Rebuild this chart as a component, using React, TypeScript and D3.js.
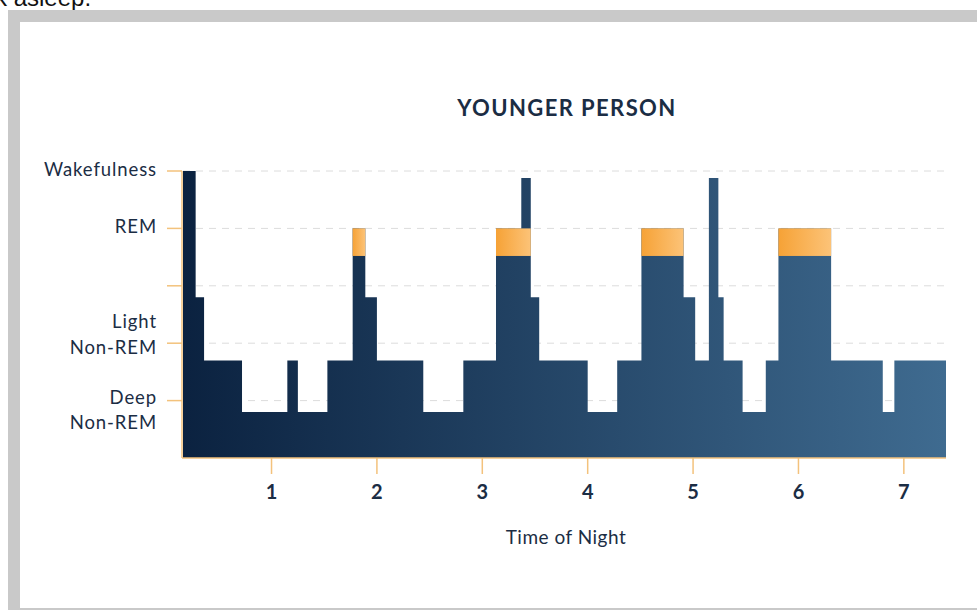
import React from 'react';
import * as d3 from 'd3';

// 수면 단계 데이터 (시간 경계와 단계 높이)
const stepBounds = [
  0.16, 0.28, 0.36, 0.72, 1.15, 1.25, 1.53, 1.77, 1.89, 2.0, 2.44, 2.82, 3.13, 3.37, 3.46, 3.54,
  4.0, 4.28, 4.51, 4.91, 5.02, 5.15, 5.24, 5.29, 5.47, 5.69, 5.81, 6.31, 6.8, 6.91, 7.4,
];
const stageLevels = [
  5, 2.8, 1.7, 0.8, 1.7, 0.8, 1.7, 4, 2.8, 1.7, 0.8, 1.7, 4, 4.88, 2.8, 1.7,
  0.8, 1.7, 4, 2.8, 1.7, 4.88, 2.8, 1.7, 0.8, 1.7, 4, 1.7, 0.8, 1.7,
];

// REM 구간
const remStarts = [1.77, 3.13, 4.51, 5.81];
const remEnds = [1.89, 3.46, 4.91, 6.31];
const remBottom = 3.52;
const remTop = 4;

// 축 눈금
const xTicks = [1, 2, 3, 4, 5, 6, 7];
const yTickValues = [5, 4, 3, 2, 1];
const yTickLabels = [['Wakefulness'], ['REM'], [], ['Light', 'Non-REM'], ['Deep', 'Non-REM']];

const W = 977;
const H = 610;
const FONT = 'Lato, "Open Sans", sans-serif';
const INK = '#1b2d44';
const AXIS = '#f3c27c';

export default function App() {
  const x = d3.scaleLinear().domain([0.16, 7.4]).range([183, 946]);
  const y = d3.scaleLinear().domain([0, 5]).range([458, 171]);

  const points = stageLevels.map((v, i) => ({ t: stepBounds[i], v }));
  points.push({ t: stepBounds[stepBounds.length - 1], v: stageLevels[stageLevels.length - 1] });

  const area = d3
    .area<{ t: number; v: number }>()
    .x((d) => x(d.t))
    .y0(y(0))
    .y1((d) => y(d.v))
    .curve(d3.curveStepAfter);

  // 라벨 줄 위치 보정 (두 줄 라벨)
  const lineOffsets = [[0], [0], [], [-20, 6], [-1, 24]];

  return (
    <div style={{ position: 'fixed', left: 0, top: 0 }}>
      <svg width={W} height={H} style={{ display: 'block', background: '#fff' }}>
        <defs>
          <linearGradient id="navy" gradientUnits="userSpaceOnUse" x1={x(0.16)} x2={x(7.4)} y1={0} y2={0}>
            <stop offset="0%" stopColor="#0b2240" />
            <stop offset="100%" stopColor="#3f6b90" />
          </linearGradient>
          <linearGradient id="rem" x1="0" x2="1" y1="0" y2="0">
            <stop offset="0%" stopColor="#f6a236" />
            <stop offset="100%" stopColor="#fcc378" />
          </linearGradient>
        </defs>

        {/* 잘린 상단 문장 */}
        <text x={-5} y={6} fontFamily='"Liberation Sans", Arial, sans-serif' fontSize={24} fill="#111">
          k asleep.
        </text>

        {/* 회색 테두리 */}
        <rect x={14} y={16} width={1000} height={598} fill="#fff" stroke="#c9c9c9" strokeWidth={12} />

        {/* 제목 */}
        <text
          x={567}
          y={110}
          textAnchor="middle"
          dominantBaseline="middle"
          fontFamily={FONT}
          fontWeight={700}
          fontSize={22}
          letterSpacing={1.4}
          fill={INK}>
          YOUNGER PERSON
        </text>

        {/* 점선 격자 */}
        {yTickValues.map((v) => (
          <line
            key={`g${v}`}
            x1={x(0.16)}
            x2={x(7.4)}
            y1={y(v)}
            y2={y(v)}
            stroke="#dcdcdc"
            strokeWidth={1}
            strokeDasharray="7 6"
          />
        ))}

        {/* 수면 단계 영역 */}
        <path d={area(points) as string} fill="url(#navy)" />

        {/* REM 구간 */}
        {remStarts.map((s, i) => (
          <rect
            key={`r${i}`}
            x={x(s)}
            width={x(remEnds[i]) - x(s)}
            y={y(remTop)}
            height={y(remBottom) - y(remTop)}
            fill="url(#rem)"
          />
        ))}

        {/* Y축 */}
        <line x1={182} x2={182} y1={y(5)} y2={y(0)} stroke={AXIS} strokeWidth={1.5} />
        {yTickValues.map((v, i) => (
          <g key={`y${v}`}>
            <line x1={167} x2={182} y1={y(v)} y2={y(v)} stroke={AXIS} strokeWidth={1.5} />
            {yTickLabels[i].map((line, j) => (
              <text
                key={line}
                x={157}
                y={y(v) + lineOffsets[i][j]}
                textAnchor="end"
                dominantBaseline="middle"
                fontFamily={FONT}
                fontSize={18.5}
                letterSpacing={0.9}
                fill={INK}>
                {line}
              </text>
            ))}
          </g>
        ))}

        {/* X축 */}
        <line x1={182} x2={x(7.4)} y1={y(0)} y2={y(0)} stroke={AXIS} strokeWidth={1.5} />
        {xTicks.map((t) => (
          <g key={`x${t}`}>
            <line x1={x(t)} x2={x(t)} y1={y(0)} y2={y(0) + 16} stroke={AXIS} strokeWidth={1.5} />
            <text
              x={x(t)}
              y={y(0) + 36}
              textAnchor="middle"
              dominantBaseline="middle"
              fontFamily={FONT}
              fontWeight={700}
              fontSize={20}
              fill={INK}>
              {t}
            </text>
          </g>
        ))}

        <text
          x={566}
          y={539}
          textAnchor="middle"
          dominantBaseline="middle"
          fontFamily={FONT}
          fontSize={19}
          letterSpacing={0.5}
          fill={INK}>
          Time of Night
        </text>
      </svg>
    </div>
  );
}
